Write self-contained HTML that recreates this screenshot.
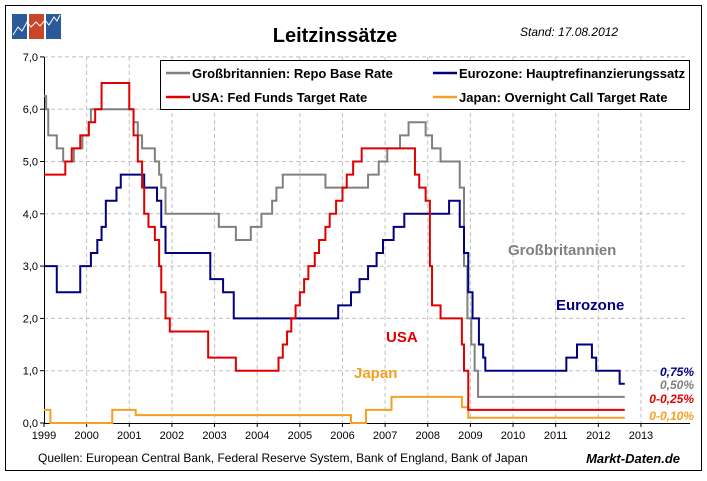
<!DOCTYPE html>
<html><head><meta charset="utf-8"><style>
body{margin:0;background:#fff;font-family:"Liberation Sans",sans-serif}
svg text{font-family:"Liberation Sans",sans-serif}
</style></head><body>
<svg width="707" height="476" viewBox="0 0 707 476" xmlns="http://www.w3.org/2000/svg">
<rect x="0" y="0" width="707" height="476" fill="#fff"/>
<rect x="5.5" y="5.5" width="696" height="465" fill="none" stroke="#000" stroke-width="1"/>
<g>
<rect x="12" y="14" width="15" height="25" fill="#2a5a9a"/>
<rect x="29" y="14" width="15" height="25" fill="#c8472a"/>
<rect x="46" y="14" width="15" height="25" fill="#2a5a9a"/>
<polyline points="13,35 18,27 22,31 27,22 31,27 36,22 40,26 45,20 49,25 54,17 57,21 60,15" fill="none" stroke="#fff" stroke-width="1"/>
</g>
<text x="335" y="42" text-anchor="middle" font-size="20" font-weight="bold">Leitzinssätze</text>
<text x="520" y="36" font-size="12" font-style="italic">Stand: 17.08.2012</text>
<g id="grid"></g>
<g id="axes"></g>
<g id="series"></g>
<g>
<rect x="160.5" y="60.5" width="529" height="49" fill="#fff" stroke="#000"/>
<line x1="166" y1="73" x2="190" y2="73" stroke="#808080" stroke-width="2.5"/>
<text x="192" y="78" font-size="13" font-weight="bold">Großbritannien: Repo Base Rate</text>
<line x1="166" y1="97" x2="190" y2="97" stroke="#e00000" stroke-width="2.5"/>
<text x="192" y="102" font-size="13" font-weight="bold">USA: Fed Funds Target Rate</text>
<line x1="433" y1="73" x2="457" y2="73" stroke="#000080" stroke-width="2.5"/>
<text x="459" y="78" font-size="13" font-weight="bold">Eurozone: Hauptrefinanzierungssatz</text>
<line x1="433" y1="97" x2="457" y2="97" stroke="#f5a020" stroke-width="2.5"/>
<text x="459" y="102" font-size="13" font-weight="bold">Japan: Overnight Call Target Rate</text>
</g>
<text x="508" y="255" font-size="15" font-weight="bold" fill="#808080">Großbritannien</text>
<text x="556" y="310" font-size="15" font-weight="bold" fill="#000080">Eurozone</text>
<text x="386" y="342" font-size="15" font-weight="bold" fill="#e00000">USA</text>
<text x="354" y="378" font-size="15" font-weight="bold" fill="#f5a020">Japan</text>
<g font-size="12" font-weight="bold" font-style="italic" font-family="Liberation Serif" text-anchor="end">
<text x="694" y="376" fill="#000080">0,75%</text>
<text x="694" y="389" fill="#808080">0,50%</text>
<text x="694" y="403" fill="#e00000">0-0,25%</text>
<text x="694" y="420" fill="#f5a020">0-0,10%</text>
</g>
<text x="38" y="462" font-size="12">Quellen: European Central Bank, Federal Reserve System, Bank of England, Bank of Japan</text>
<text x="680" y="463" text-anchor="end" font-size="13" font-weight="bold" font-style="italic">Markt-Daten.de</text>
</svg>
<script>
const years=[1999,2000,2001,2002,2003,2004,2005,2006,2007,2008,2009,2010,2011,2012,2013];
const yTicks=[0,1,2,3,4,5,6,7];
const yTickLabels=["0,0","1,0","2,0","3,0","4,0","5,0","6,0","7,0"];
const endYear=2012.62;
const ukT=[1999,1999.05,1999.1,1999.3,1999.45,1999.7,1999.9,2000.05,2000.1,2001.1,2001.2,2001.3,2001.6,2001.7,2001.75,2001.85,2003.1,2003.5,2003.85,2004.1,2004.35,2004.45,2004.6,2005.6,2006.6,2006.85,2007.05,2007.35,2007.55,2007.95,2008.1,2008.3,2008.75,2008.85,2008.93,2009.02,2009.1,2009.18];
const ukV=[6.25,6.0,5.5,5.25,5.0,5.25,5.5,5.75,6.0,5.75,5.5,5.25,5.0,4.75,4.5,4.0,3.75,3.5,3.75,4.0,4.25,4.5,4.75,4.5,4.75,5.0,5.25,5.5,5.75,5.5,5.25,5.0,4.5,3.0,2.0,1.5,1.0,0.5];
const euT=[1999,1999.3,1999.85,2000.1,2000.25,2000.35,2000.45,2000.7,2000.8,2001.35,2001.65,2001.75,2001.85,2002.9,2003.2,2003.45,2005.9,2006.2,2006.4,2006.6,2006.8,2006.95,2007.2,2007.45,2008.5,2008.75,2008.85,2008.95,2009.05,2009.2,2009.3,2009.35,2011.25,2011.5,2011.85,2011.95,2012.5];
const euV=[3.0,2.5,3.0,3.25,3.5,3.75,4.25,4.5,4.75,4.5,4.25,3.75,3.25,2.75,2.5,2.0,2.25,2.5,2.75,3.0,3.25,3.5,3.75,4.0,4.25,3.75,3.25,2.5,2.0,1.5,1.25,1.0,1.25,1.5,1.25,1.0,0.75];
const usT=[1999,1999.5,1999.65,1999.85,2000.05,2000.2,2000.35,2001.0,2001.1,2001.2,2001.3,2001.35,2001.45,2001.6,2001.7,2001.75,2001.85,2001.95,2002.85,2003.5,2004.5,2004.6,2004.7,2004.8,2004.9,2005.0,2005.1,2005.2,2005.35,2005.45,2005.6,2005.7,2005.85,2006.0,2006.1,2006.25,2006.45,2007.7,2007.8,2007.95,2008.05,2008.1,2008.3,2008.8,2008.85,2008.95];
const usV=[4.75,5.0,5.25,5.5,5.75,6.0,6.5,6.0,5.5,5.0,4.5,4.0,3.75,3.5,3.0,2.5,2.0,1.75,1.25,1.0,1.25,1.5,1.75,2.0,2.25,2.5,2.75,3.0,3.25,3.5,3.75,4.0,4.25,4.5,4.75,5.0,5.25,4.75,4.5,4.25,3.0,2.25,2.0,1.5,1.0,0.25];
const jpT=[1999,1999.15,2000.6,2001.15,2006.2,2006.55,2007.15,2008.8,2008.95];
const jpV=[0.25,0.0,0.25,0.15,0.0,0.25,0.5,0.3,0.1];
const X0=44,PXY=42.64,Y0=423,PXV=52.3;
const sx=t=>X0+(t-1999)*PXY, sy=v=>Y0-v*PXV;
const NS="http://www.w3.org/2000/svg";
function mk(tag,attrs,parent){const e=document.createElementNS(NS,tag);for(const k in attrs)e.setAttribute(k,attrs[k]);parent.appendChild(e);return e;}
const grid=document.getElementById('grid'),axes=document.getElementById('axes'),series=document.getElementById('series');
yTicks.forEach((v,i)=>{
 if(v>0){const l=mk('line',{x1:X0,x2:686,y1:sy(v),y2:sy(v),stroke:'#c0c0c0','stroke-dasharray':'4,3'},grid);
 
 }
 const tk=mk('line',{x1:X0-4,x2:X0,y1:sy(v),y2:sy(v),stroke:'#000'},axes);
 
 
 const t=mk('text',{x:X0-6,y:sy(v)+4,'text-anchor':'end','font-size':'11'},axes);t.textContent=yTickLabels[i];
 
 
});
years.forEach(y=>{
 if(y>1999){const l=mk('line',{x1:sx(y),x2:sx(y),y1:sy(7),y2:Y0,stroke:'#c0c0c0','stroke-dasharray':'4,3'},grid);
 
 }
 const tk=mk('line',{x1:sx(y),x2:sx(y),y1:Y0,y2:Y0+4,stroke:'#000'},axes);
 
 
 const t=mk('text',{x:sx(y),y:Y0+16,'text-anchor':'middle','font-size':'11'},axes);t.textContent=y;
 
 
});
const xa=mk('line',{x1:X0,x2:690,y1:Y0+0.5,y2:Y0+0.5,stroke:'#000'},axes);


const ya=mk('line',{x1:X0+0.5,x2:X0+0.5,y1:sy(7),y2:Y0,stroke:'#000'},axes);


function step(T,V,color,name){
 let d='';
 for(let i=0;i<T.length;i++){const x=sx(T[i]),y=sy(V[i]);d+=(i?'L'+x+','+sy(V[i-1])+'L':'M')+x+','+y;}
 d+='L'+sx(endYear)+','+sy(V[V.length-1]);
 const p=mk('path',{d:d,fill:'none',stroke:color,'stroke-width':'2'},series);
 
 
}
step(jpT,jpV,'#f5a020','line-japan');
step(ukT,ukV,'#808080','line-uk');
step(euT,euV,'#000080','line-eurozone');
step(usT,usV,'#e00000','line-usa');
</script>
</body></html>
